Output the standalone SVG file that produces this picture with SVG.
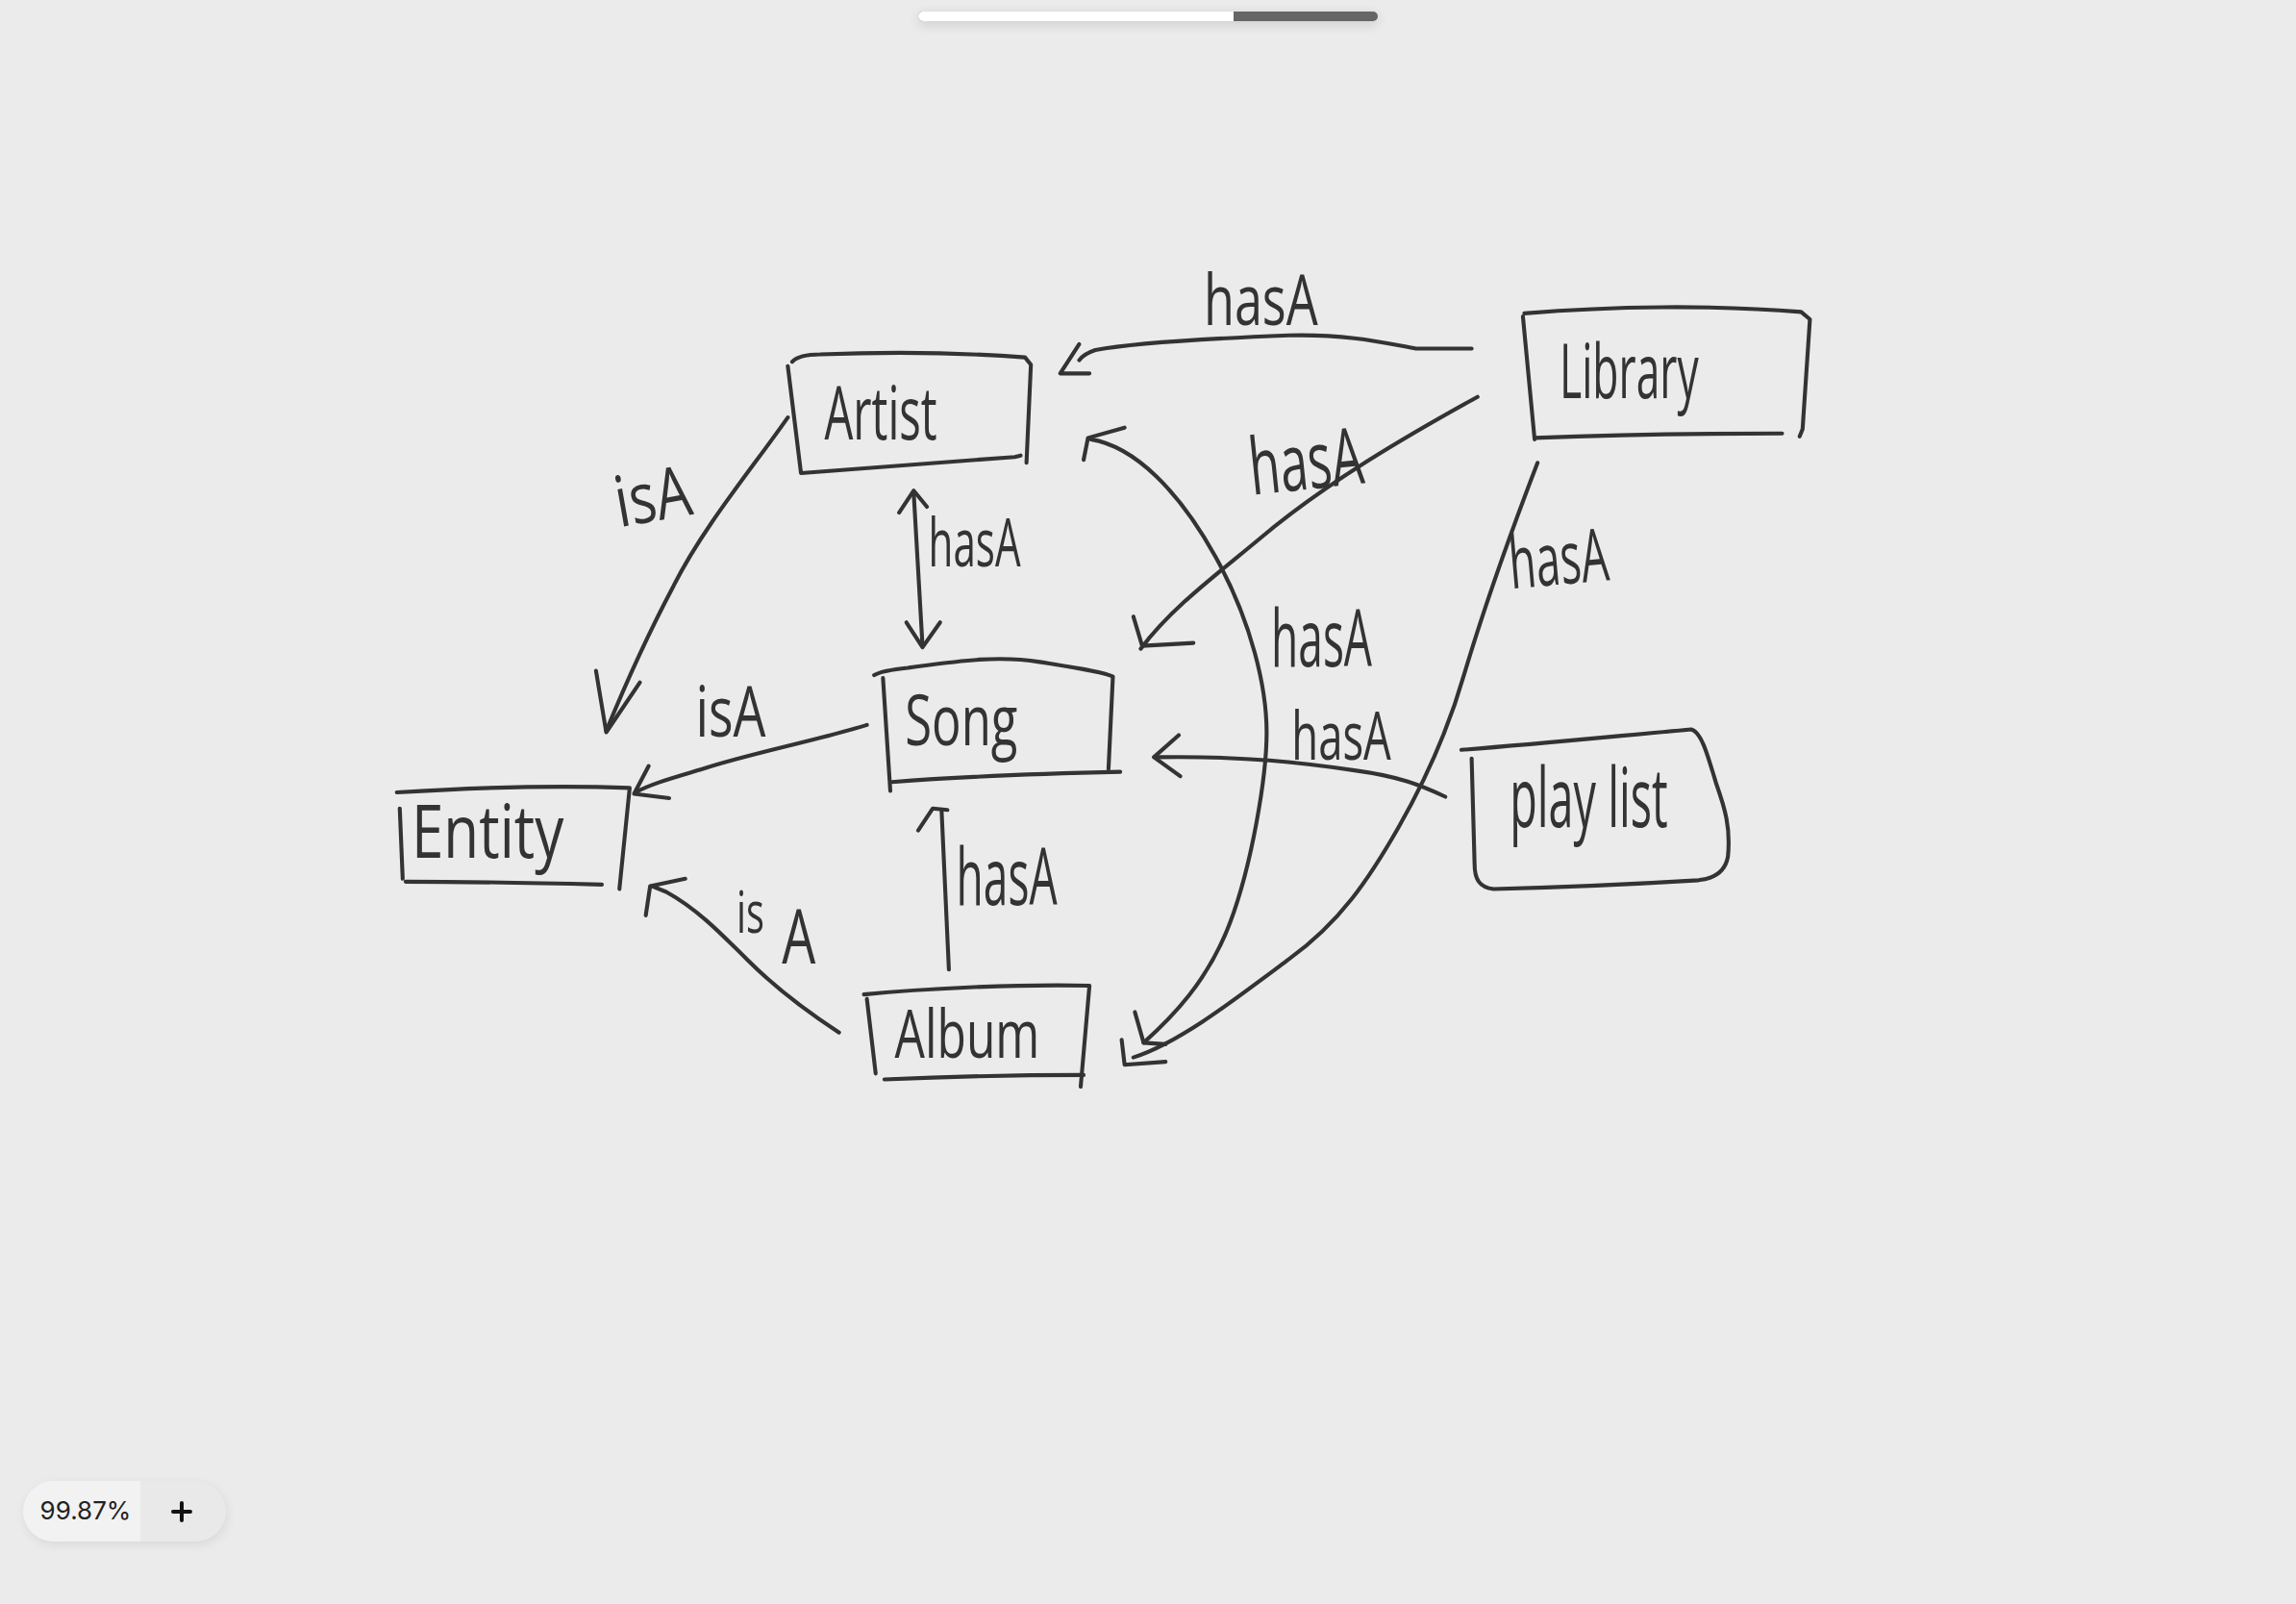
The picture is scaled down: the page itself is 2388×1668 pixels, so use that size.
<svg xmlns="http://www.w3.org/2000/svg" width="2388" height="1668" viewBox="0 0 2388 1668">
<style>
.ln{fill:none;stroke:#333;stroke-width:2.7;stroke-linecap:round;stroke-linejoin:round}
.tx{font-family:"Open Sans","Liberation Sans","DejaVu Sans",sans-serif;font-weight:400;fill:#333}
.ui{font-family:Inter,"Liberation Sans",sans-serif;fill:#222}
</style>
<defs>
<filter id="sh" x="-20%" y="-100%" width="140%" height="300%"><feGaussianBlur stdDeviation="6"/></filter>
</defs>
<rect width="2388" height="1668" fill="#ebebeb"/>
<!-- scrollbar -->
<rect x="955" y="14" width="478" height="12" rx="6" fill="#000" opacity="0.12" filter="url(#sh)"/>
<rect x="955" y="12" width="478" height="10" rx="5" fill="#666"/>
<path d="M960,12 H1283 V22 H960 A5,5 0 0 1 960,12 Z" fill="#fff"/>
<!-- zoom widget -->
<rect x="26" y="1544" width="210" height="62" rx="31" fill="#000" opacity="0.08" filter="url(#sh)"/>
<rect x="24" y="1540" width="211" height="63" rx="31.5" fill="#e9e9e9"/>
<path d="M55.5,1540 H146 V1603 H55.5 A31.5,31.5 0 0 1 55.5,1540 Z" fill="#f2f2f2"/>
<text class="ui" x="89" y="1580" font-size="26" text-anchor="middle">99.87%</text>
<path d="M180,1572 H198 M189,1563 V1581" stroke="#111" stroke-width="4" stroke-linecap="round"/>

<g transform="scale(1.523)">
<g id="connectors">
  <!-- Library -> Artist -->
  <path class="ln" d="M1005,238 L967,238 C945,234 920,228 880,229 C830,231 775,234 748,239 C742,241 739,243 737,246"/>
  <path class="ln" d="M737,235 L724,255 L744,255"/>
  <text class="tx" x="822" y="222" font-size="48" textLength="78" lengthAdjust="spacingAndGlyphs">hasA</text>
  <!-- Library -> Song -->
  <path class="ln" d="M1009,271 C960,298 905,330 860,368 C830,393 800,415 779,443"/>
  <path class="ln" d="M774,421 L780,441 L815,439"/>
  <text class="tx" x="855" y="338" font-size="54" textLength="78" lengthAdjust="spacingAndGlyphs" transform="rotate(-6 855 338)">hasA</text>
  <!-- Library -> Album -->
  <path class="ln" d="M1050,316 C1035,355 1015,410 1000,460 C990,495 975,530 955,565 C935,600 915,630 880,655 C840,685 805,712 774,722"/>
  <path class="ln" d="M766,710 L768,727 L796,725"/>
  <text class="tx" x="1032" y="402" font-size="50" textLength="68" lengthAdjust="spacingAndGlyphs" transform="rotate(-5 1032 402)">hasA</text>
  <!-- Artist <-> Song -->
  <path class="ln" d="M624,337 L630,441"/>
  <path class="ln" d="M614,350 L624,335 L633,346"/>
  <path class="ln" d="M619,425 L630,442 L642,425"/>
  <text class="tx" x="634" y="387" font-size="46" textLength="63" lengthAdjust="spacingAndGlyphs">hasA</text>
  <!-- Album -> Song -->
  <path class="ln" d="M648,662 L643,553"/>
  <path class="ln" d="M627,567 L637,552 L647,553"/>
  <text class="tx" x="653" y="618" font-size="54" textLength="69" lengthAdjust="spacingAndGlyphs">hasA</text>
  <!-- Artist <-> Album -->
  <path class="ln" d="M745,300 C775,305 805,335 830,380 S865,470 865,500 S855,590 840,630 S800,695 781,712"/>
  <path class="ln" d="M740,314 L743,299 L768,292"/>
  <path class="ln" d="M775,691 L781,712 L796,713"/>
  <text class="tx" x="868" y="455" font-size="54" textLength="69" lengthAdjust="spacingAndGlyphs">hasA</text>
  <!-- playlist -> Song -->
  <path class="ln" d="M987,544 C970,536 955,530 925,526 C890,521 850,516 790,517"/>
  <path class="ln" d="M805,502 L788,517 L806,530"/>
  <text class="tx" x="882" y="519" font-size="46" textLength="68" lengthAdjust="spacingAndGlyphs">hasA</text>
  <!-- Artist -> Entity -->
  <path class="ln" d="M538,285 C515,318 480,360 460,400 C443,432 428,465 414,499"/>
  <path class="ln" d="M407,458 L414,500 L437,466"/>
  <text class="tx" x="423" y="360" font-size="48" textLength="52" lengthAdjust="spacingAndGlyphs" transform="rotate(-10 423 360)">isA</text>
  <!-- Song -> Entity -->
  <path class="ln" d="M592,495 C560,505 510,515 480,525 C460,531 445,535 434,541"/>
  <path class="ln" d="M443,523 L433,542 L457,545"/>
  <text class="tx" x="475" y="503" font-size="48" textLength="48" lengthAdjust="spacingAndGlyphs">isA</text>
  <!-- Album -> Entity -->
  <path class="ln" d="M573,705 C550,690 530,675 510,655 C490,635 475,620 455,609 L445,605"/>
  <path class="ln" d="M441,625 L444,605 L468,600"/>
  <text class="tx" font-size="52"><tspan x="503" y="637" font-size="40" textLength="19" lengthAdjust="spacingAndGlyphs">is</tspan><tspan x="534" y="658" textLength="23" lengthAdjust="spacingAndGlyphs">A</tspan></text>
</g>

<g id="node-artist">
  <path class="ln" d="M541,247 C545,243 552,242 560,242 C610,240 660,241 700,244 L704,249 L701,316"/>
  <path class="ln" d="M538,250 L547,323 C600,319 650,315 693,312 L697,311"/>
  <text class="tx" x="563" y="300" font-size="50" textLength="77" lengthAdjust="spacingAndGlyphs">Artist</text>
</g>
<g id="node-library">
  <path class="ln" d="M1040,216 L1048,300"/>
  <path class="ln" d="M1041,214 C1100,209 1170,208 1230,213 L1236,218 L1231,293 L1229,298"/>
  <path class="ln" d="M1048,299 C1100,297 1170,296 1217,296"/>
  <text class="tx" x="1065" y="272" font-size="52" textLength="95" lengthAdjust="spacingAndGlyphs">Library</text>
</g>
<g id="node-song">
  <path class="ln" d="M597,461 C602,458 610,457 620,456 C650,452 680,447 710,452 C735,456 755,459 760,462 L757,525"/>
  <path class="ln" d="M603,463 L608,540"/>
  <path class="ln" d="M609,534 C660,530 720,528 765,527"/>
  <text class="tx" x="618" y="509" font-size="48" textLength="77" lengthAdjust="spacingAndGlyphs">Song</text>
</g>
<g id="node-entity">
  <path class="ln" d="M271,541 C320,538 380,536 430,538 L423,607"/>
  <path class="ln" d="M273,552 L275,600"/>
  <path class="ln" d="M277,602 C320,602 370,603 411,604"/>
  <text class="tx" x="281" y="586" font-size="50" textLength="104" lengthAdjust="spacingAndGlyphs">Entity</text>
</g>
<g id="node-album">
  <path class="ln" d="M590,679 C630,675 690,672 744,673 L738,742"/>
  <path class="ln" d="M592,682 L598,733"/>
  <path class="ln" d="M604,737 C650,735 700,734 740,734"/>
  <text class="tx" x="611" y="722" font-size="46" textLength="99" lengthAdjust="spacingAndGlyphs">Album</text>
</g>
<g id="node-playlist">
  <path class="ln" d="M998,512 C1050,508 1110,502 1155,498 C1162,500 1166,515 1172,535 C1178,552 1182,565 1180,585 C1178,596 1170,600 1160,601 C1110,604 1060,606 1020,607 C1010,606 1007,600 1007,590 L1005,518"/>
  <text class="tx" x="1031" y="565" font-size="56" textLength="108" lengthAdjust="spacingAndGlyphs">play list</text>
</g>
</g>
</svg>
